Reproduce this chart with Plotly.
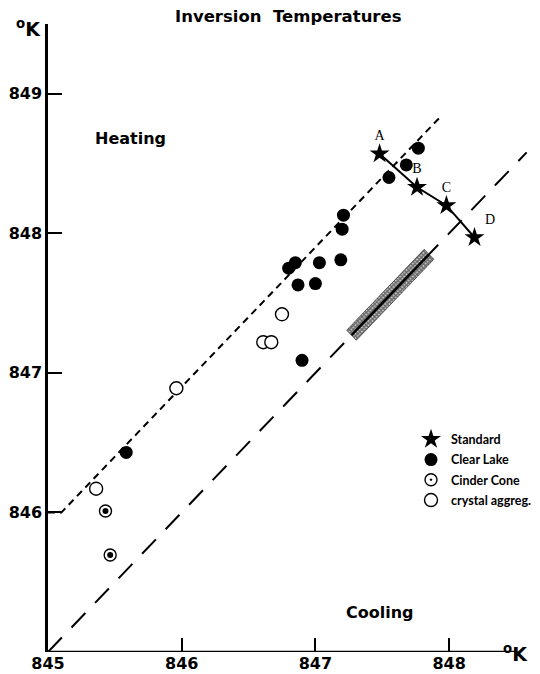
import plotly.graph_objects as go

# Inversion temperatures in K: cooling run (x) against heating run (y)
clear_lake_cool = [847.77, 847.68, 847.55, 847.21, 847.20, 847.19, 847.03,
                   846.85, 846.80, 846.87, 847.00, 846.90, 845.585]
clear_lake_heat = [848.61, 848.49, 848.40, 848.13, 848.03, 847.81, 847.79,
                   847.79, 847.75, 847.63, 847.64, 847.09, 846.43]

crystal_cool = [845.36, 845.96, 846.61, 846.67, 846.75]
crystal_heat = [846.17, 846.89, 847.22, 847.22, 847.42]

cinder_cool = [845.43, 845.465]
cinder_heat = [846.01, 845.695]

standard_cool = [847.48, 847.76, 847.98, 848.19]
standard_heat = [848.57, 848.33, 848.20, 847.97]
standard_labels = ["A", "B", "C", "D"]

# Reference lines: heating trend (short dash) and equality line (long dash)
heating_line_x = [845.0, 845.1, 847.93]
heating_line_y = [846.0, 846.0, 848.83]
cooling_line = [845.0, 848.58]

# Cooling inversion interval of the quartz standard
band_range = [847.27, 847.85]
band_half = 0.036

x_ticks = [845, 846, 847, 848]
y_ticks = [846, 847, 848, 849]

bold = dict(family="DejaVu Sans", size=16, color="black", weight="bold")
unit_font = dict(family="DejaVu Sans", size=19, color="black", weight="bold")

fig = go.Figure()

fig.add_trace(go.Scatter(
    x=cooling_line, y=cooling_line, mode="lines", showlegend=False,
    line=dict(color="black", width=2, dash="20px,14px"), hoverinfo="skip"))
fig.add_trace(go.Scatter(
    x=heating_line_x, y=heating_line_y, mode="lines", showlegend=False,
    line=dict(color="black", width=2, dash="7px,5px"), hoverinfo="skip"))

# hatched band drawn as a rotated rectangle around the equality line
b0, b1 = band_range
band_x = [b0 - band_half, b1 - band_half, b1 + band_half, b0 + band_half, b0 - band_half]
band_y = [b0 + band_half, b1 + band_half, b1 - band_half, b0 - band_half, b0 + band_half]
fig.add_trace(go.Scatter(
    x=band_x, y=band_y, mode="lines", fill="toself", showlegend=False,
    line=dict(color="rgba(0,0,0,0.7)", width=0.8),
    fillcolor="#666666",
    fillpattern=dict(shape="x", size=3, solidity=0.7, fgcolor="black", bgcolor="#d0d0d0"),
    hoverinfo="skip"))
fig.add_trace(go.Scatter(
    x=band_range, y=band_range, mode="lines", showlegend=False,
    line=dict(color="black", width=2.5), hoverinfo="skip"))

# line joining the standard runs
fig.add_trace(go.Scatter(
    x=standard_cool, y=standard_heat, mode="lines", showlegend=False,
    line=dict(color="black", width=2), hoverinfo="skip"))

fig.add_trace(go.Scatter(
    x=standard_cool, y=standard_heat, mode="markers+text", name="Standard",
    legendgroup="std",
    marker=dict(symbol="star", size=15, color="black"),
    text=standard_labels,
    textposition=["top center", "top center", "top center", "top right"],
    textfont=dict(family="Liberation Serif", size=14, color="black")))
fig.add_trace(go.Scatter(
    x=clear_lake_cool, y=clear_lake_heat, mode="markers", name="Clear Lake",
    legendgroup="cl",
    marker=dict(symbol="circle", size=13, color="black")))
fig.add_trace(go.Scatter(
    x=cinder_cool, y=cinder_heat, mode="markers", name="Cinder Cone",
    legendgroup="cc",
    marker=dict(symbol="circle-dot", size=12, color="white",
                line=dict(color="black", width=1.4))))
fig.add_trace(go.Scatter(
    x=cinder_cool, y=cinder_heat, mode="markers", showlegend=False,
    legendgroup="cc",
    marker=dict(symbol="circle", size=6, color="black"), hoverinfo="skip"))
fig.add_trace(go.Scatter(
    x=crystal_cool, y=crystal_heat, mode="markers", name="crystal aggreg.",
    legendgroup="ca",
    marker=dict(symbol="circle", size=13, color="white",
                line=dict(color="black", width=1.4))))

fig.update_layout(
    width=540, height=674,
    margin=dict(l=48, r=8, t=24, b=22, autoexpand=False),
    paper_bgcolor="white", plot_bgcolor="white",
    showlegend=True,
    legend=dict(x=0.75, y=0.362, xanchor="left", yanchor="top",
                bgcolor="rgba(0,0,0,0)", itemwidth=30, tracegroupgap=1,
                font=dict(family="Lato", size=12.5, color="black", weight="bold")),
    xaxis=dict(range=[845, 848.62], tickvals=x_ticks,
               ticktext=[str(v) for v in x_ticks],
               ticks="inside", ticklen=14, tickwidth=2, tickcolor="black",
               showline=False, showgrid=False, zeroline=False,
               tickfont=bold),
    yaxis=dict(range=[845, 849.5], tickvals=y_ticks,
               ticktext=[str(v) for v in y_ticks],
               ticks="inside", ticklen=14, tickwidth=2, tickcolor="black",
               showline=True, linecolor="black", linewidth=2.5,
               showgrid=False, zeroline=False, tickfont=bold),
    shapes=[dict(type="line", xref="x", yref="y", x0=845, x1=848.51,
                 y0=845, y1=845, line=dict(color="black", width=2.5))],
    annotations=[
        dict(text="Inversion  Temperatures", xref="paper", yref="paper",
             x=0.496, y=1.030, showarrow=False,
             font=dict(family="DejaVu Sans", size=16.5, color="black", weight="bold")),
        dict(text="<sup>o</sup>K", xref="paper", yref="paper",
             x=-0.07, y=1.016, showarrow=False, font=unit_font),
        dict(text="<sup>o</sup>K", xref="paper", yref="paper",
             x=0.995, y=-0.024, showarrow=False, font=unit_font),
        dict(text="Heating", xref="paper", yref="paper",
             x=0.093, y=0.836, showarrow=False, font=bold),
        dict(text="Cooling", xref="paper", yref="paper",
             x=0.760, y=0.045, showarrow=False, font=bold),
    ],
)

fig.write_html("out.html")
